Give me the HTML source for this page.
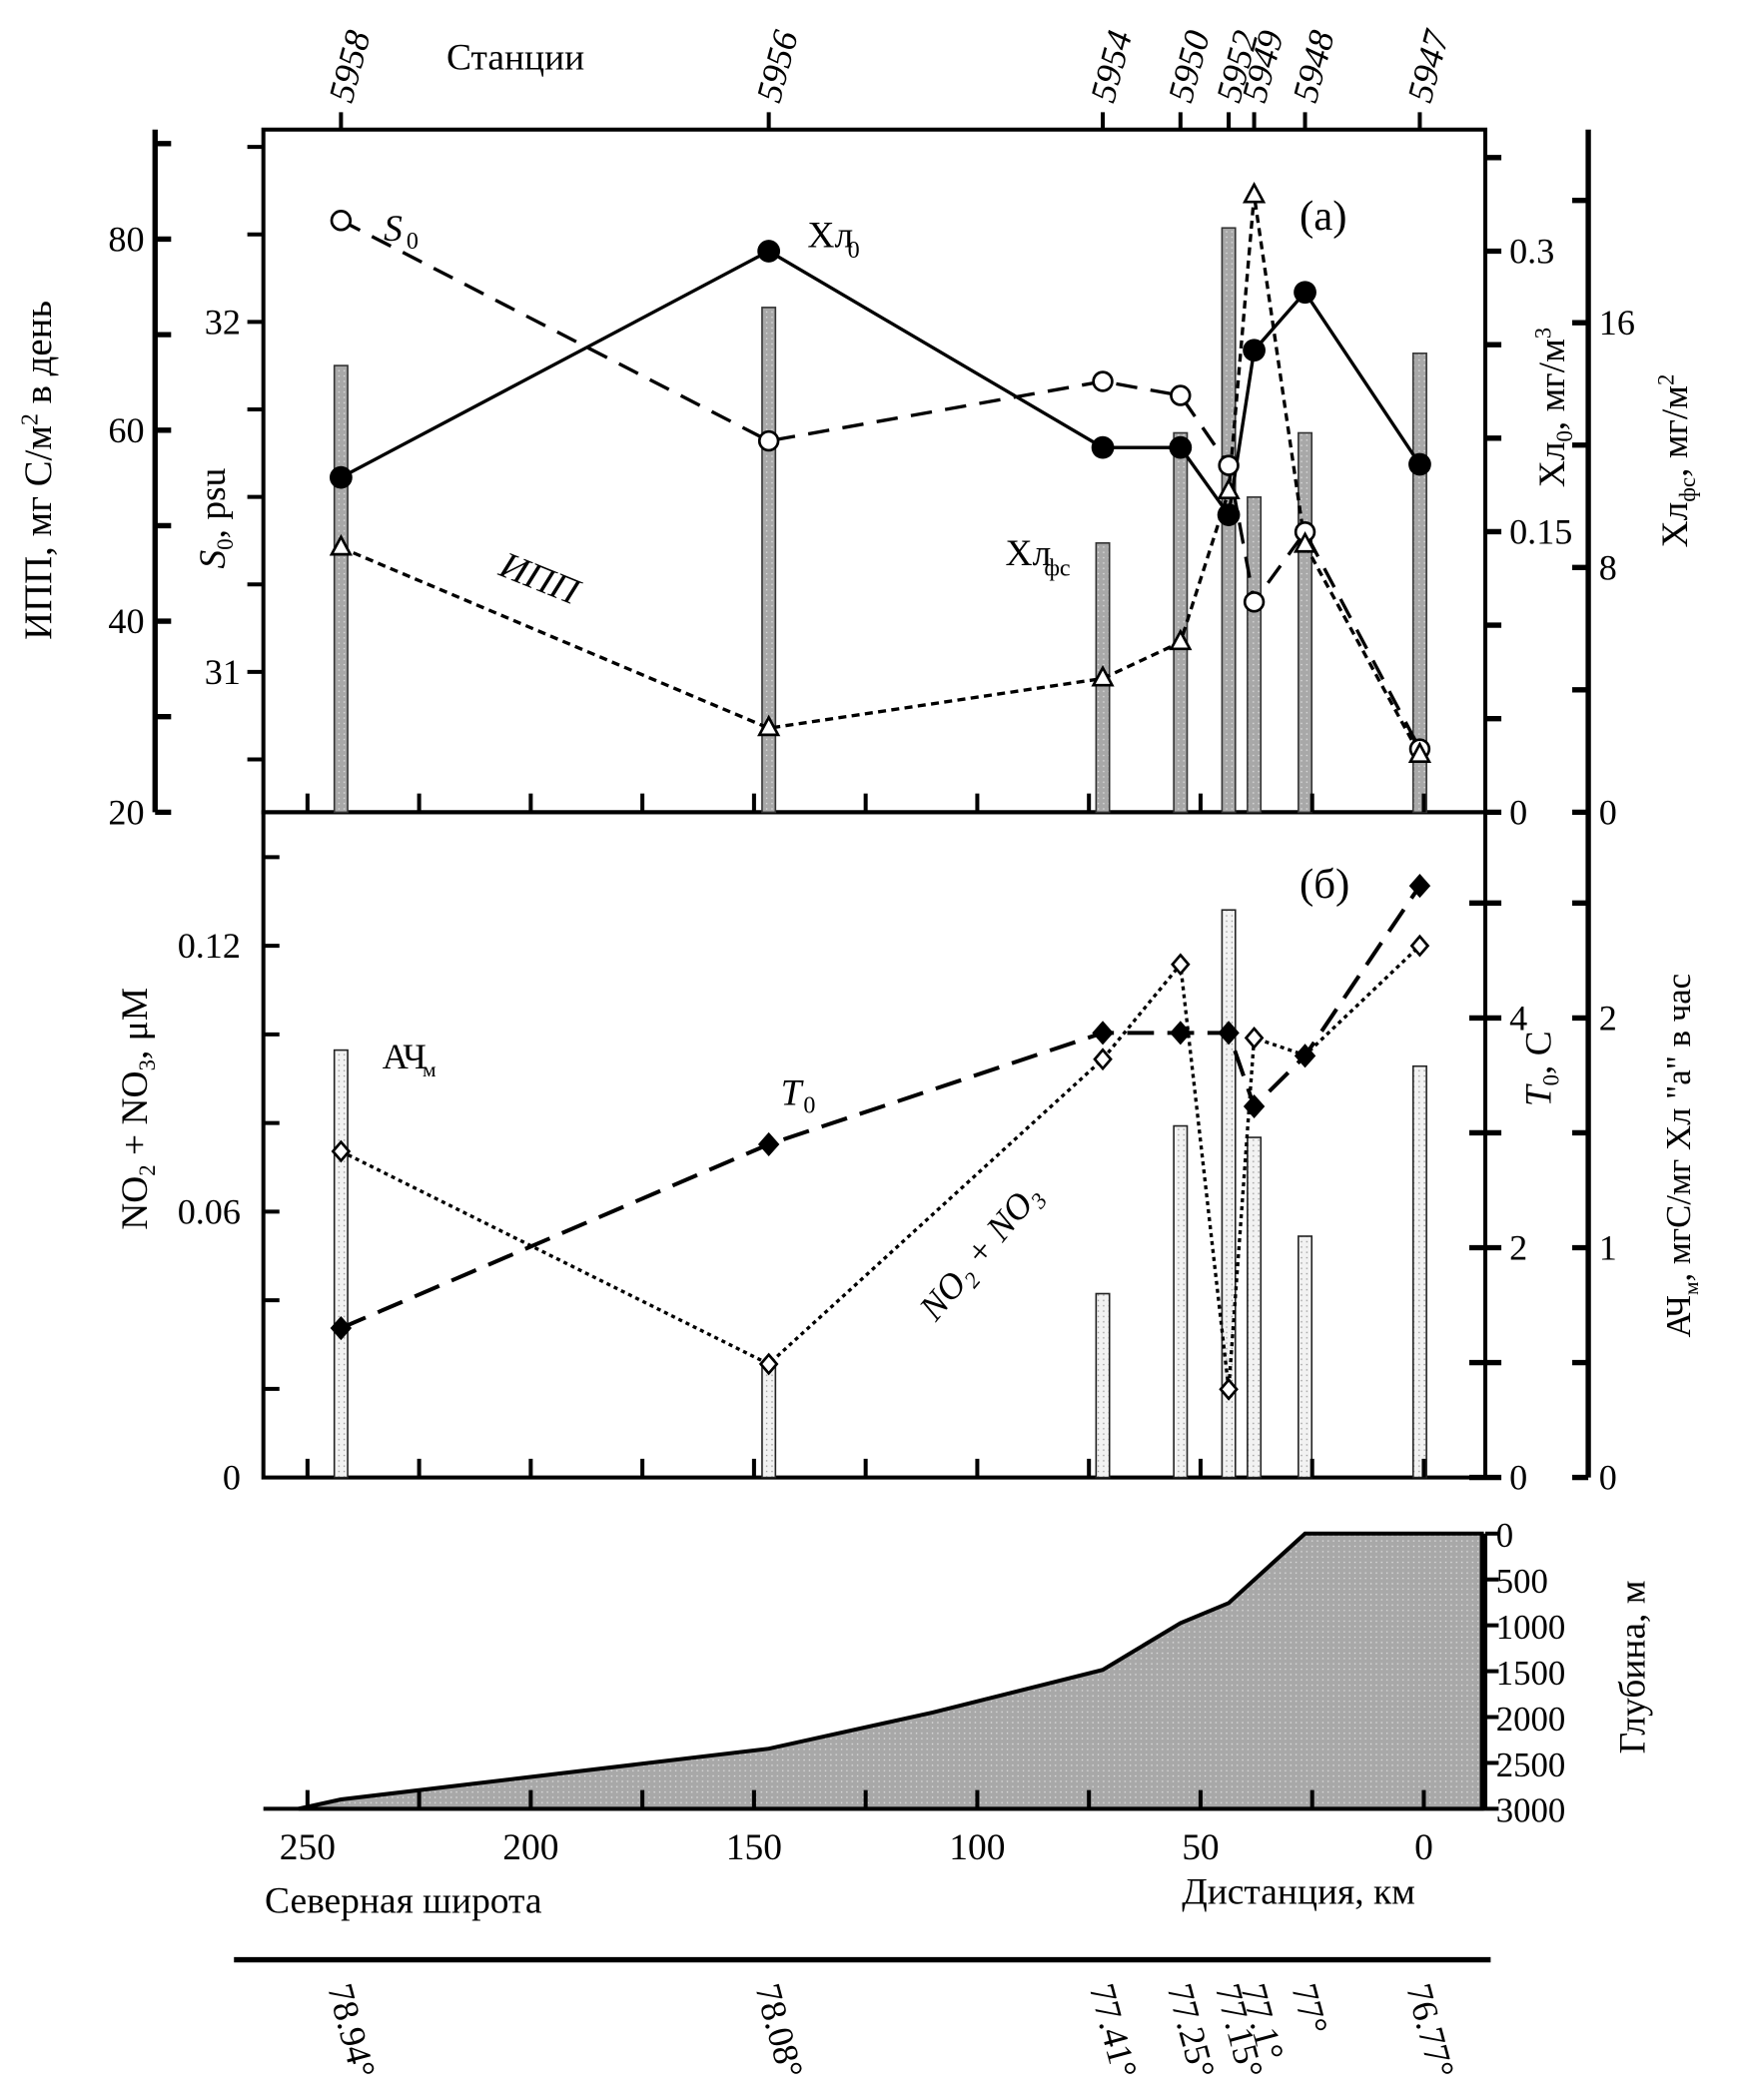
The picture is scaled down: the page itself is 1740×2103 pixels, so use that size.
<!DOCTYPE html>
<html><head><meta charset="utf-8">
<style>
html,body{margin:0;padding:0;background:#fff;}
svg{display:block;}
svg text{font-family:"Liberation Serif","Times New Roman",serif;fill:#000;}
</style></head>
<body>
<svg id="chart" font-family="Liberation Serif, serif" width="1740" height="2103" viewBox="0 0 1300 1572" preserveAspectRatio="none" xmlns="http://www.w3.org/2000/svg">
<defs>
<pattern id="dk" width="4" height="4" patternUnits="userSpaceOnUse"><rect width="4" height="4" fill="#a8a8a8"/><rect x="1" y="1" width="1" height="1" fill="#e0e0e0"/></pattern>
<pattern id="lt" width="4" height="4" patternUnits="userSpaceOnUse"><rect width="4" height="4" fill="#f2f2f2"/><rect x="1" y="1" width="1" height="1" fill="#999"/></pattern>
</defs>
<g id="g" font-family="Liberation Serif, serif"></g>
</svg>
<script>
const stations=['5958','5956','5954','5950','5952','5949','5948','5947'];
const distKm=[242.5,146.7,71.9,54.5,43.7,38,26.6,0.9];
const lats=['78.94°','78.08°','77.41°','77.25°','77.15°','77.1°','77°','76.77°'];
const chl0=[0.179,0.300,0.195,0.195,0.159,0.247,0.278,0.186];
const sal0=[32.29,31.66,31.83,31.79,31.59,31.20,31.40,30.78];
const ipp=[47.7,28.8,34.0,37.8,53.6,84.6,48.0,26.0];
const chlfs=[14.6,16.5,8.8,12.4,19.1,10.3,12.4,15.0];
const no23=[0.0736,0.0256,0.0944,0.1158,0.0199,0.0992,0.0953,0.120];
const temp0=[1.30,2.90,3.87,3.87,3.87,3.23,3.67,5.15];
const achm=[1.86,0.50,0.80,1.53,2.47,1.48,1.05,1.79];
const depthKm=[252,242.5,146.7,110,71.9,54.5,43.7,26.6,-13];
const depthM=[3000,2898,2345,1950,1485,976,757,0,0];
const distTicks=[250,200,150,100,50,0];
const ippTicks=[20,40,60,80];
const salTicks=[31,32];
const chl0Ticks=['0','0.15','0.3'];
const chlfsTicks=[0,8,16];
const noTicks=['0','0.06','0.12'];
const tTicks=[0,2,4];
const achTicks=[0,1,2];
const depTicks=[0,500,1000,1500,2000,2500,3000];

const NS='http://www.w3.org/2000/svg';
const G=document.getElementById('g');
function el(t,a,p){const e=document.createElementNS(NS,t);for(const k in a)e.setAttribute(k,a[k]);(p||G).appendChild(e);return e;}
function txt(x,y,s,size,extra){const e=el('text',Object.assign({x:x,y:y,'font-size':size||26,'font-family':'Liberation Serif, serif'},extra||{}));e.textContent=s;return e;}
const X=d=>1065-d*3.34;
const L=197,R=1111;
const yIpp=v=>608-(v-20)*7.15;
const ySal=v=>503-(v-31)*262;
const yChl0=v=>608-v*1400;
const yChlfs=v=>608-v*22.9;
const yNo=v=>1106-v*3317;
const yT=v=>1106-v*86;
const yAch=v=>1106-v*172;
const yDep=v=>1148+v*206/3000;
const line=(x1,y1,x2,y2,w)=>el('line',{x1,y1,x2,y2,stroke:'#000','stroke-width':w||2});

let f;
f=el('rect',{x:L,y:97,width:R-L,height:511,fill:'none',stroke:'#000','stroke-width':3});

f=el('rect',{x:L,y:608,width:R-L,height:498,fill:'none',stroke:'#000','stroke-width':3});

line(116,97,116,608,4);line(1188,97,1188,1106,4);
line(R,1148,R,1354,3);line(L,1354,R,1354,3);
line(175,1467,1115,1467,4);

stations.forEach((s,i)=>{const x=X(distKm[i]),y=yChlfs(chlfs[i]);
 const b=el('rect',{x:x-5,y:y,width:10,height:608-y,fill:'url(#dk)',stroke:'#333','stroke-width':1.2});
 });
stations.forEach((s,i)=>{const x=X(distKm[i]),y=yAch(achm[i]);
 const b=el('rect',{x:x-5,y:y,width:10,height:1106-y,fill:'url(#lt)',stroke:'#222','stroke-width':1.2});
 });

let pts=depthKm.map((d,i)=>X(d)+','+yDep(depthM[i])).join(' ');
const area=el('polygon',{points:pts+' '+X(-13)+',1354 '+X(252)+',1354',fill:'url(#dk)',stroke:'#000','stroke-width':3});


[608,1106,1354].forEach(y=>{for(let d=250;d>=0;d-=25){line(X(d),y,X(d),y-14,3);}});
stations.forEach((s,i)=>line(X(distKm[i]),97,X(distKm[i]),84,3));
distTicks.forEach(d=>{const t=txt(X(d),1392,String(d),28,{'text-anchor':'middle'});});
stations.forEach((s,i)=>{const x=X(distKm[i]);const t=txt(x+8,78,s,27,{'font-style':'italic',transform:'rotate(-75 '+(x+8)+' 78)'});});
lats.forEach((s,i)=>{const x=X(distKm[i]);const t=txt(x-10,1488,s,27,{transform:'rotate(75 '+(x-10)+' 1488)'});});

for(let v=20;v<=90;v+=10){line(116,yIpp(v),128,yIpp(v),4);}
ippTicks.forEach(v=>txt(108,yIpp(v)+9,String(v),27,{'text-anchor':'end'}));
for(let v=30.75;v<=32.5;v+=0.25){if(ySal(v)<608&&ySal(v)>97)line(185,ySal(v),197,ySal(v),3);}
salTicks.forEach(v=>txt(180,ySal(v)+9,String(v),27,{'text-anchor':'end'}));
for(let v=0;v<=0.35;v+=0.05){line(R,yChl0(v),R+12,yChl0(v),4);}
chl0Ticks.forEach(v=>txt(R+18,yChl0(+v)+9,v,27));
for(let v=0;v<=20;v+=4){line(1176,yChlfs(v),1188,yChlfs(v),4);}
chlfsTicks.forEach(v=>txt(1196,yChlfs(v)+9,String(v),27));
for(let v=0.02;v<=0.14;v+=0.02){line(L,yNo(v),L+12,yNo(v),3);}
noTicks.forEach(v=>txt(180,yNo(+v)+9,v,27,{'text-anchor':'end'}));
for(let v=0;v<=5;v++){line(R-12,yT(v),R+12,yT(v),4);}
tTicks.forEach(v=>txt(R+18,yT(v)+9,String(v),27));
for(let v=0;v<=2.5;v+=0.5){line(1176,yAch(v),1188,yAch(v),4);}
achTicks.forEach(v=>txt(1196,yAch(v)+9,String(v),27));
depTicks.forEach(v=>{line(R,yDep(v),R+10,yDep(v),3);txt(R+8,yDep(v)+10,String(v),26);});

function series(xs,ys,dash,w,name){const e=el('polyline',{points:xs.map((x,i)=>x+','+ys[i]).join(' '),fill:'none',stroke:'#000','stroke-width':w,'stroke-dasharray':dash});}
const xs=distKm.map(X);
series(xs,sal0.map(ySal),'16 10',2.5,'s0-line');
series(xs,ipp.map(yIpp),'6 4',2.5,'ipp-line');
series(xs,chl0.map(yChl0),'none',2.5,'chl0-line');
series(xs,no23.map(yNo),'3 3',2.5,'no23-line');
series(xs,temp0.map(yT),'20 10',3,'t0-line');
xs.forEach((x,i)=>{
 let m=el('circle',{cx:x,cy:ySal(sal0[i]),r:7,fill:'#fff',stroke:'#000','stroke-width':2});
 let y=yIpp(ipp[i]);m=el('polygon',{points:`${x},${y-8} ${x-7},${y+5} ${x+7},${y+5}`,fill:'#fff',stroke:'#000','stroke-width':2});
 m=el('circle',{cx:x,cy:yChl0(chl0[i]),r:8.5,fill:'#000'});
 y=yNo(no23[i]);m=el('polygon',{points:`${x},${y-7} ${x+6},${y} ${x},${y+7} ${x-6},${y}`,fill:'#fff',stroke:'#000','stroke-width':2});
 y=yT(temp0[i]);m=el('polygon',{points:`${x},${y-9} ${x+8},${y} ${x},${y+9} ${x-8},${y}`,fill:'#000'});
});

txt(334,52,'Станции',28);
txt(972,172,'(а)',32);txt(972,672,'(б)',32);
txt(287,180,'S',28,{'font-style':'italic'});txt(304,186,'0',18);
txt(604,185,'Хл',28);txt(634,193,'0',18);
txt(752,423,'Хл',28);txt(781,431,'фс',18);
txt(372,430,'ИПП',28,{'font-style':'italic',transform:'rotate(22 372 430)'});
txt(286,800,'АЧ',27);txt(316,806,'м',16);
txt(584,827,'T',28,{'font-style':'italic'});txt(601,833,'0',18);
const nt=txt(700,990,'NO',27,{'font-style':'italic',transform:'rotate(-50 700 990)'});
nt.innerHTML='NO<tspan font-size="17" dy="6">2</tspan><tspan dy="-6"> + NO</tspan><tspan font-size="17" dy="6">3</tspan>';
txt(198,1432,'Северная широта',28);txt(884,1425,'Дистанция, км',28);
function vt(x,y,html,size,name){const e=el('text',{x:x,y:y,'font-size':size,'font-family':'Liberation Serif, serif','text-anchor':'middle',transform:`rotate(-90 ${x} ${y})`});e.innerHTML=html;}
vt(38,352,'ИПП, мг С/м<tspan font-size="18" dy="-10">2</tspan><tspan dy="10"> в день</tspan>',29,'ipp-axis-title');
vt(168,388,'<tspan font-style="italic">S</tspan><tspan font-size="17" dy="6">0</tspan><tspan dy="-6">, psu</tspan>',28,'s0-axis-title');
vt(1170,305,'Хл<tspan font-size="17" dy="6">0</tspan><tspan dy="-6">, мг/м</tspan><tspan font-size="17" dy="-10">3</tspan>',28,'chl0-axis-title');
vt(1262,345,'Хл<tspan font-size="17" dy="6">фс</tspan><tspan dy="-6">, мг/м</tspan><tspan font-size="17" dy="-10">2</tspan>',28,'chlfs-axis-title');
vt(110,830,'NO<tspan font-size="17" dy="6">2</tspan><tspan dy="-6"> + NO</tspan><tspan font-size="17" dy="6">3</tspan><tspan dy="-6">, μM</tspan>',28,'no23-axis-title');
vt(1160,800,'<tspan font-style="italic">T</tspan><tspan font-size="17" dy="6">0</tspan><tspan dy="-6">, С</tspan>',28,'t0-axis-title');
vt(1264,865,'АЧ<tspan font-size="16" dy="6">м</tspan><tspan dy="-6">, мгС/мг Хл "а" в час</tspan>',26,'achm-axis-title');
vt(1230,1248,'Глубина, м',28,'depth-axis-title');
</script>
</body></html>
